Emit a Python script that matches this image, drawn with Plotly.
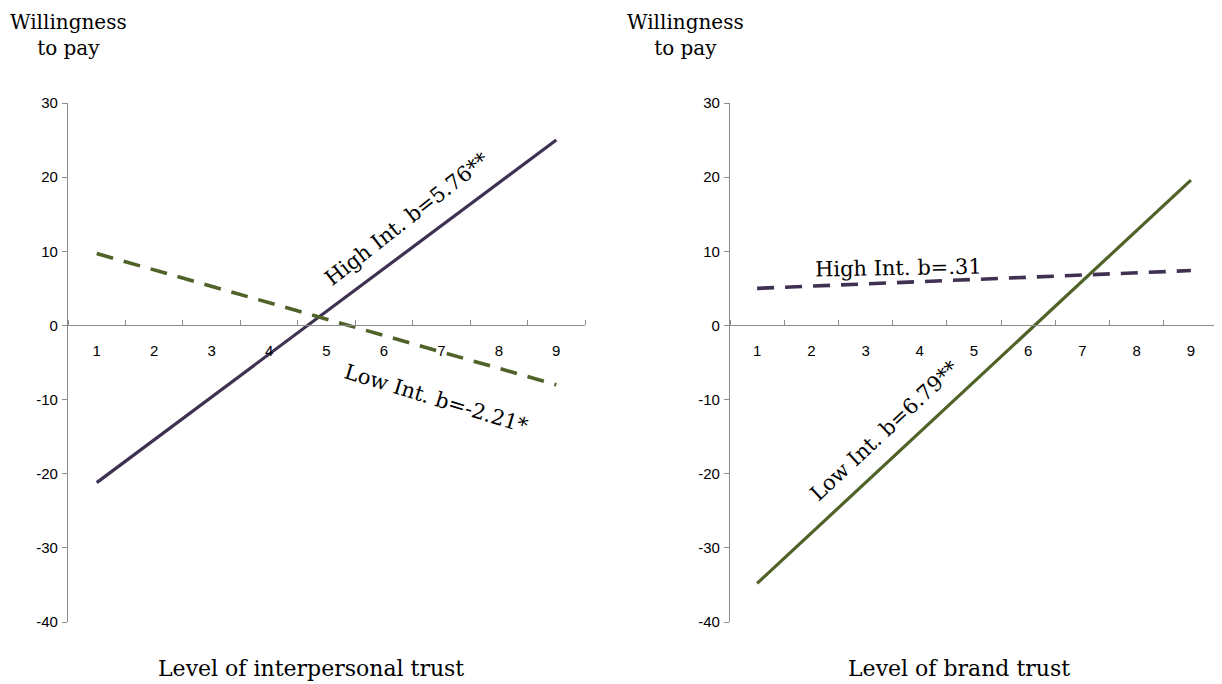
import plotly.graph_objects as go

# ---- data ----
trust_levels = [1, 2, 3, 4, 5, 6, 7, 8, 9]
tick_labels = ["1", "2", "3", "4", "5", "6", "7", "8", "9"]
line_x = [1, 9]

# left panel: interpersonal trust
inter_high = [-21.2, 25.0]
inter_low = [9.7, -8.0]
# right panel: brand trust
brand_high = [5.0, 7.4]
brand_low = [-34.8, 19.6]

y_ticks = [30, 20, 10, 0, -10, -20, -30, -40]
y_tick_labels = ["30", "20", "10", "0", "-10", "-20", "-30", "-40"]
y_min, y_max = -40, 30

PURPLE = "#3F3151"
GREEN = "#4F6228"
AXIS = "#8C8C8C"
SERIF = "DejaVu Serif"
SANS = "Liberation Sans"

OFF = 8                      # page body margin
W, H = 1222 - OFF, 684 - OFF


def px(x):
    return (x - OFF) / W


def py(y):
    return 1 - (y - OFF) / H


dom_y = [py(622), py(103)]
zero_pos = dom_y[0] + (0 - y_min) / (y_max - y_min) * (dom_y[1] - dom_y[0])

DASH = "17px,11px"
fig = go.Figure()
fig.add_trace(go.Scatter(x=line_x, y=inter_high, mode="lines",
                         line=dict(color=PURPLE, width=3.2), xaxis="x", yaxis="y"))
fig.add_trace(go.Scatter(x=line_x, y=inter_low, mode="lines",
                         line=dict(color=GREEN, width=3.6, dash=DASH), xaxis="x", yaxis="y"))
fig.add_trace(go.Scatter(x=line_x, y=brand_high, mode="lines",
                         line=dict(color=PURPLE, width=3.6, dash=DASH), xaxis="x2", yaxis="y2"))
fig.add_trace(go.Scatter(x=line_x, y=brand_low, mode="lines",
                         line=dict(color=GREEN, width=3.2), xaxis="x2", yaxis="y2"))

xcommon = dict(range=[0.5, 9.5], tickvals=trust_levels, ticktext=tick_labels,
               ticks="", showline=True, linecolor=AXIS, linewidth=1.2,
               showgrid=False, zeroline=False, anchor="free", position=zero_pos,
               automargin=False,
               tickfont=dict(family=SANS, size=15, color="#000"),
               minor=dict(tick0=0.5, dtick=1, ticks="inside", ticklen=5,
                          tickcolor=AXIS, tickwidth=1.2, showgrid=False),
               ticklabelstandoff=11)
ycommon = dict(range=[y_min, y_max], tickvals=y_ticks, ticktext=y_tick_labels,
               ticks="outside", ticklen=5,
               tickcolor=AXIS, tickwidth=1.2, showline=True, linecolor=AXIS,
               linewidth=1.2, showgrid=False, zeroline=False, automargin=False,
               tickfont=dict(family=SANS, size=15, color="#000"), ticklabelstandoff=1)

fig.update_layout(
    width=W, height=H, showlegend=False, autosize=False,
    paper_bgcolor="white", plot_bgcolor="white",
    margin=dict(l=0, r=0, t=0, b=0, pad=0, autoexpand=False),
    xaxis=dict(domain=[px(68), px(585)], **xcommon),
    yaxis=dict(domain=dom_y, anchor="x", **ycommon),
    xaxis2=dict(domain=[px(730), px(1218)], **xcommon),
    yaxis2=dict(domain=dom_y, anchor="x2", **ycommon),
)

tfont = dict(family=SERIF, size=22, color="#000")
lfont = dict(family=SERIF, size=21, color="#000")
ann = [
    dict(text="Willingness<br>to pay", x=px(68), y=py(35), xref="paper", yref="paper",
         xanchor="center", yanchor="middle",
         showarrow=False, font=dict(family=SERIF, size=20, color="#000"), align="center"),
    dict(text="Willingness<br>to pay", x=px(685), y=py(35), xref="paper", yref="paper",
         xanchor="center", yanchor="middle",
         showarrow=False, font=dict(family=SERIF, size=20, color="#000"), align="center"),
    dict(text="Level of interpersonal trust", x=px(311), y=py(668), xref="paper",
         yref="paper", xanchor="center", yanchor="middle", showarrow=False, font=tfont),
    dict(text="Level of brand trust", x=px(959), y=py(668), xref="paper",
         yref="paper", xanchor="center", yanchor="middle", showarrow=False, font=tfont),
    dict(text="High Int. b=5.76**", x=6.4, y=14.4, xref="x", yref="y", showarrow=False,
         textangle=-38, font=lfont),
    dict(text="Low Int. b=-2.21*", x=6.92, y=-9.9, xref="x", yref="y", showarrow=False,
         textangle=17, font=lfont),
    dict(text="High Int. b=.31", x=3.6, y=7.7, xref="x2", yref="y2", showarrow=False,
         textangle=-1, font=lfont),
    dict(text="Low Int. b=6.79**", x=3.35, y=-14.3, xref="x2", yref="y2", showarrow=False,
         textangle=-43, font=lfont),
]
fig.update_layout(annotations=ann)

fig.write_html("out.html")
